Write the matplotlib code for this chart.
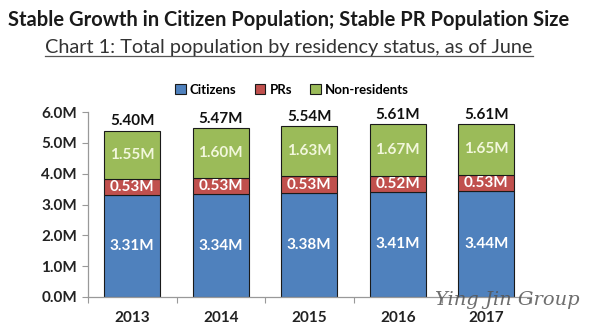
import matplotlib
matplotlib.use("Agg")
import matplotlib.pyplot as plt
import numpy as np

years = ["2013", "2014", "2015", "2016", "2017"]
citizens = [3.31, 3.34, 3.38, 3.41, 3.44]
prs = [0.53, 0.53, 0.53, 0.52, 0.53]
non_residents = [1.55, 1.60, 1.63, 1.67, 1.65]
totals = [5.40, 5.47, 5.54, 5.61, 5.61]
series_names = ["Citizens", "PRs", "Non-residents"]
yticks = [0, 1, 2, 3, 4, 5, 6]

colors = ["#4F81BD", "#C0504D", "#9BBB59"]
label_colors = ["#FFFFFF", "#FFFFFF", "#F2F7DC"]
font = "Lato"

fig = plt.figure(figsize=(5.9, 3.33), dpi=100)
ax = fig.add_axes([88 / 590, 36 / 333, 442.5 / 590, 185 / 333])

x = np.arange(len(years))
bottom = np.zeros(len(years))
series = [citizens, prs, non_residents]
handles = []
for vals, name, c, lc in zip(series, series_names, colors, label_colors):
    vals = np.array(vals)
    bars = ax.bar(x, vals, 0.63, bottom=bottom, color=c, edgecolor="#1a1a1a",
                  linewidth=0.8, label=name)
    handles.append(bars)
    for xi, b, v in zip(x, bottom, vals):
        ax.text(xi, b + v / 2, f"{v:.2f}M", ha="center", va="center",
                color=lc, fontsize=11, fontweight="bold", family=font)
    bottom = bottom + vals

for xi, t in zip(x, totals):
    ax.text(xi, t + 0.08, f"{t:.2f}M", ha="center", va="bottom",
            color="#111111", fontsize=11, fontweight="bold", family=font)

ax.set_xlim(-0.5, len(years) - 0.5)
ax.set_ylim(0, 6)
ax.set_yticks(yticks)
ax.set_yticklabels([f"{v:.1f}M" for v in yticks], fontsize=11,
                   fontweight="bold", family=font, color="#222222")
ax.set_xticks(x)
ax.set_xticklabels(years, fontsize=11, fontweight="bold", family=font,
                   color="#222222")
ax.tick_params(axis="x", length=0, pad=10)
ax.set_xticks(np.arange(-0.5, len(years)), minor=True)
ax.tick_params(axis="x", which="minor", length=4, color="#999999", width=0.8)
ax.tick_params(axis="y", length=4, color="#999999", width=0.8, pad=4)
for s in ["top", "right"]:
    ax.spines[s].set_visible(False)
for s in ["left", "bottom"]:
    ax.spines[s].set_color("#999999")
    ax.spines[s].set_linewidth(0.9)

fig.text(0.49, 1 - 20 / 333, "Stable Growth in Citizen Population; Stable PR Population Size",
         ha="center", va="center", fontsize=14.5, fontweight="bold", family=font,
         color="#1a1a1a")
sub = fig.text(0.49, 1 - 48 / 333, "Chart 1: Total population by residency status, as of June",
               ha="center", va="center", fontsize=14.3, family=font, color="#333333")
fig.canvas.draw()
bb = sub.get_window_extent()
fig.add_artist(plt.Line2D([bb.x0 / 590, bb.x1 / 590],
                          [(bb.y0 + 1) / 333, (bb.y0 + 1) / 333],
                          color="#555555", linewidth=0.9))

fig.legend(handles=handles, labels=series_names, loc="center",
           bbox_to_anchor=(0.495, 1 - 90 / 333), ncol=3, frameon=False,
           prop={"family": font, "weight": "bold", "size": 9.5},
           handlelength=0.8, handleheight=0.8, handletextpad=0.3,
           columnspacing=1.4)

fig.text(0.86, 1 - 300 / 333, "Ying Jin Group", ha="center", va="center",
         fontsize=14, style="italic", family="DejaVu Serif", color="#555555",
         alpha=0.85)

fig.savefig("out.png", dpi=100)
